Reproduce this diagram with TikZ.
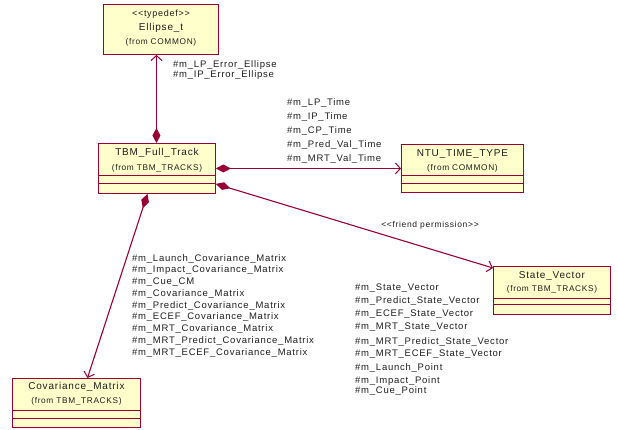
\documentclass[tikz,border=0pt]{standalone}
\usepackage{fontspec}
\setmainfont{Liberation Sans}
\newfontfamily\lblfont[LetterSpace=8]{Liberation Sans}
\usetikzlibrary{arrows.meta,calc}
\definecolor{umlred}{RGB}{153,0,51}
\definecolor{umlfill}{RGB}{255,255,204}
\definecolor{txt}{RGB}{30,30,30}
\tikzset{
  classbox/.style={draw=umlred, fill=umlfill, line width=0.9pt, inner sep=0pt, anchor=north west},
  nametext/.style={font=\lblfont\fontsize{10}{11}\selectfont, text=txt, inner sep=0pt},
  fromtext/.style={font=\lblfont\fontsize{8.3}{9}\selectfont, text=txt, inner sep=0pt},
  roletext/.style={font=\lblfont\fontsize{9.5}{11.75}\selectfont, text=txt, inner sep=0pt, align=left, anchor=north west},
  agg/.style={draw=umlred, line width=1.1pt, {Diamond[length=15pt,width=8pt]}-{Straight Barb[length=5pt,width=11pt,line width=1pt]}},
  comp/.style={draw=umlred, line width=0.9pt}
}
\begin{document}
\begin{tikzpicture}[x=1pt,y=-1pt]
\useasboundingbox (0,0) rectangle (618,429);
% Ellipse_t
\node[classbox, minimum width=115pt, minimum height=50pt] (ell) at (103,4) {};
\node[nametext, font=\lblfont\fontsize{9}{10}\selectfont] (elltd) at ($(ell.north)+(0,10)$) {\textless\textless typedef\textgreater\textgreater};
\node[nametext] (ellnm) at ($(ell.north)+(0,23.5)$) {Ellipse\_t};
\node[fromtext] (ellfr) at ($(ell.north)+(0,38)$) {(from COMMON)};
% TBM_Full_Track
\node[classbox, minimum width=117pt, minimum height=50pt] (tbm) at (98,143) {};
\node[nametext] (tbmnm) at ($(tbm.north)+(0,10)$) {TBM\_Full\_Track};
\node[fromtext] (tbmfr) at ($(tbm.north)+(0,25)$) {(from TBM\_TRACKS)};
\draw[comp] ([yshift=18pt]tbm.south west) -- ([yshift=18pt]tbm.south east);
\draw[comp] ([yshift=10pt]tbm.south west) -- ([yshift=10pt]tbm.south east);
% NTU_TIME_TYPE
\node[classbox, minimum width=122pt, minimum height=48pt] (ntu) at (401,144) {};
\node[nametext] (ntunm) at ($(ntu.north)+(0,10)$) {NTU\_TIME\_TYPE};
\node[fromtext] (ntufr) at ($(ntu.north)+(0,24)$) {(from COMMON)};
\draw[comp] ([yshift=17pt]ntu.south west) -- ([yshift=17pt]ntu.south east);
\draw[comp] ([yshift=9pt]ntu.south west) -- ([yshift=9pt]ntu.south east);
% State_Vector
\node[classbox, minimum width=117pt, minimum height=48pt] (sv) at (493,266) {};
\node[nametext] (svnm) at ($(sv.north)+(0,10)$) {State\_Vector};
\node[fromtext] (svfr) at ($(sv.north)+(0,23.5)$) {(from TBM\_TRACKS)};
\draw[comp] ([yshift=16.5pt]sv.south west) -- ([yshift=16.5pt]sv.south east);
\draw[comp] ([yshift=10pt]sv.south west) -- ([yshift=10pt]sv.south east);
% Covariance_Matrix
\node[classbox, minimum width=128pt, minimum height=49pt] (cov) at (12,378) {};
\node[nametext] (covnm) at ($(cov.north)+(0,9)$) {Covariance\_Matrix};
\node[fromtext] (covfr) at ($(cov.north)+(0,23)$) {(from TBM\_TRACKS)};
\draw[comp] ([yshift=17pt]cov.south west) -- ([yshift=17pt]cov.south east);
\draw[comp] ([yshift=9pt]cov.south west) -- ([yshift=9pt]cov.south east);
% connectors
\draw[agg] ([xshift=-0.5pt]tbm.north) -- ([xshift=-4.5pt]ell.south);
\draw[agg] (tbm.east) -- (ntu.west);
\draw[agg] ([yshift=10pt]tbm.south east) -- ([yshift=-2pt]sv.north west);
\draw[agg] ([xshift=-9.5pt]tbm.south) -- ([xshift=11pt]cov.north);
% role labels
\node[roletext] (ellroles) at (173,60) {\#m\_LP\_Error\_Ellipse\\[-1pt]\#m\_IP\_Error\_Ellipse};
\node[roletext] (timeroles) at (287,98.5) {\#m\_LP\_Time\\[2.2pt]\#m\_IP\_Time\\[2.2pt]\#m\_CP\_Time\\[2.2pt]\#m\_Pred\_Val\_Time\\[2.2pt]\#m\_MRT\_Val\_Time};
\node[nametext, font=\lblfont\fontsize{8.5}{10}\selectfont] (friend) at (430,225) {\textless\textless friend permission\textgreater\textgreater};
\node[roletext] (covroles) at (132,254) {\#m\_Launch\_Covariance\_Matrix\\\#m\_Impact\_Covariance\_Matrix\\\#m\_Cue\_CM\\\#m\_Covariance\_Matrix\\\#m\_Predict\_Covariance\_Matrix\\\#m\_ECEF\_Covariance\_Matrix\\\#m\_MRT\_Covariance\_Matrix\\\#m\_MRT\_Predict\_Covariance\_Matrix\\\#m\_MRT\_ECEF\_Covariance\_Matrix};
\node[roletext] (svroles) at (355,284) {\#m\_State\_Vector\\[1pt]\#m\_Predict\_State\_Vector\\[1pt]\#m\_ECEF\_State\_Vector\\[1pt]\#m\_MRT\_State\_Vector\\[4pt]\#m\_MRT\_Predict\_State\_Vector\\[0pt]\#m\_MRT\_ECEF\_State\_Vector\\[2pt]\#m\_Launch\_Point\\[1pt]\#m\_Impact\_Point\\[-1pt]\#m\_Cue\_Point};
\end{tikzpicture}
\end{document}
